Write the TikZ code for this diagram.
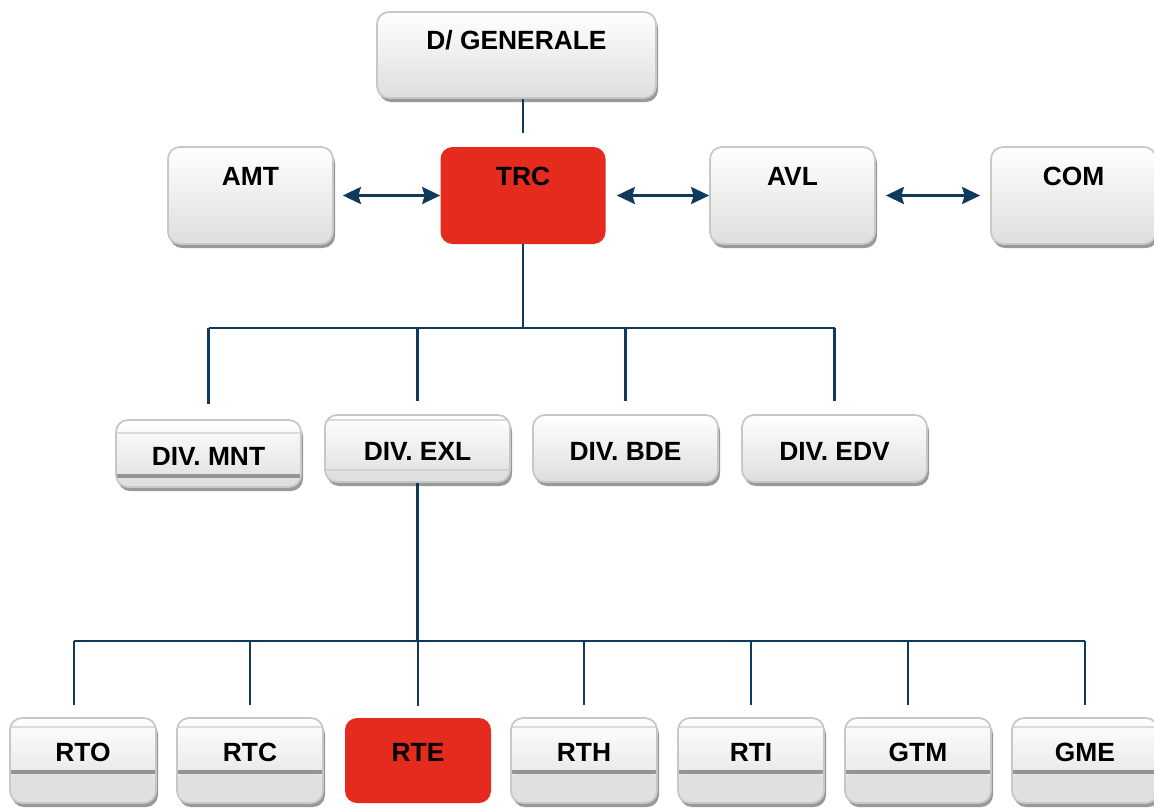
\documentclass[tikz,border=0pt]{standalone}
\usepackage{fontspec}
\setmainfont{Liberation Sans}
\usetikzlibrary{positioning,calc,shadows,arrows.meta}
\definecolor{trcred}{RGB}{229,42,30}
\definecolor{linkblue}{RGB}{15,58,92}
\tikzstyle{greybox}=[rectangle, rounded corners=2.4mm, draw=black!22, line width=1pt, top color=white, bottom color=black!13, drop shadow={shadow xshift=0.04cm, shadow yshift=-0.08cm, fill=black!40, opacity=1}, font=\fontsize{15}{17}\selectfont\bfseries, inner sep=2pt]
\tikzstyle{redbox}=[rectangle, rounded corners=2.4mm, fill=trcred, font=\fontsize{15}{17}\selectfont\bfseries, inner sep=2pt]
\tikzstyle{toplevel}=[minimum width=5.58cm, minimum height=1.72cm, text height=0.38cm, text depth=0.6cm]
\tikzstyle{unit}=[minimum width=3.3cm, minimum height=1.94cm, text height=0.38cm, text depth=0.78cm]
\tikzstyle{division}=[minimum width=3.7cm, minimum height=1.34cm, text height=0.6cm, text depth=0.12cm]
\tikzstyle{service}=[minimum width=2.92cm, minimum height=1.7cm, text height=0.38cm, text depth=0.34cm]
\tikzstyle{link}=[{Stealth[length=3.6mm,width=3.4mm,inset=0.5mm]}-{Stealth[length=3.6mm,width=3.4mm,inset=0.5mm]}, draw=linkblue, line width=1.6pt]
\tikzstyle{tree}=[draw=linkblue, line width=1.3pt]
\tikzset{band/.style 2 args={path picture={
  \fill [black!12] (path picture bounding box.south west) rectangle ([yshift=#2]path picture bounding box.south east);
  \draw [black!14, line width=1pt] ([yshift=-#1]path picture bounding box.north west) -- ([yshift=-#1]path picture bounding box.north east);
  \draw [black!42, line width=1.8pt] ([yshift=#2]path picture bounding box.south west) -- ([yshift=#2]path picture bounding box.south east);
}}}
\tikzset{lightband/.style 2 args={path picture={
  \fill [black!12] (path picture bounding box.south west) rectangle ([yshift=#2]path picture bounding box.south east);
  \draw [black!14, line width=1pt] ([yshift=-#1]path picture bounding box.north west) -- ([yshift=-#1]path picture bounding box.north east);
  \draw [black!18, line width=1pt] ([yshift=#2]path picture bounding box.south west) -- ([yshift=#2]path picture bounding box.south east);
}}}

\begin{document}
\begin{tikzpicture}[]
  \useasboundingbox (0,0) rectangle (23.08,-16.16);

  \node [greybox, toplevel] at (10.33, -1.10) (dg) {D/ GENERALE};

  \node [greybox, unit] at (5.01, -3.91) (amt) {AMT};
  \node [redbox, unit] at (10.46, -3.91) (trc) {TRC};
  \node [greybox, unit] at (15.85, -3.91) (avl) {AVL};
  \node [greybox, unit] at (21.47, -3.91) (com) {COM};

  \node [greybox, division, band={0.26cm}{0.22cm}] at (4.17, -9.07) (mnt) {DIV. MNT};
  \node [greybox, division, lightband={0.1cm}{0.24cm}] at (8.35, -8.97) (exl) {DIV. EXL};
  \node [greybox, division] at (12.51, -8.97) (bde) {DIV. BDE};
  \node [greybox, division] at (16.69, -8.97) (edv) {DIV. EDV};

  \node [greybox, service, band={0.18cm}{0.62cm}] at (1.66, -15.21) (rto) {RTO};
  \node [greybox, service, band={0.18cm}{0.62cm}] at (5.0, -15.21) (rtc) {RTC};
  \node [redbox, service] at (8.36, -15.21) (rte) {RTE};
  \node [greybox, service, band={0.18cm}{0.62cm}] at (11.68, -15.21) (rth) {RTH};
  \node [greybox, service, band={0.18cm}{0.62cm}] at (15.02, -15.21) (rti) {RTI};
  \node [greybox, service, band={0.18cm}{0.62cm}] at (18.36, -15.21) (gtm) {GTM};
  \node [greybox, service, band={0.18cm}{0.62cm}] at (21.7, -15.21) (gme) {GME};

  \draw [tree, shorten >=0.28cm] (dg.south -| trc) -- (trc.north);

  \draw [link, shorten <=0.18cm] (amt.east) -- (trc.west);
  \draw [link, shorten <=0.22cm] (trc.east) -- (avl.west);
  \draw [link, shorten <=0.2cm, shorten >=0.2cm] (avl.east) -- (com.west);

  \draw [tree] (trc.south) -- ++(0,-1.68) coordinate (bus1);
  \draw [tree] (bus1 -| mnt) -- (bus1 -| edv);
  \draw [tree, shorten >=0.3cm] (bus1 -| mnt) -- (mnt.north);
  \draw [tree, shorten >=0.26cm] (bus1 -| exl) -- (exl.north);
  \draw [tree, shorten >=0.26cm] (bus1 -| bde) -- (bde.north);
  \draw [tree, shorten >=0.26cm] (bus1 -| edv) -- (edv.north);

  \draw [tree] (exl.south) -- ++(0,-3.16) coordinate (bus2);
  \draw [tree] ([xshift=-0.18cm]rto.north |- bus2) -- (gme.north |- bus2);
  \draw [tree, shorten >=0.24cm] ([xshift=-0.18cm]rto.north |- bus2) -- ([xshift=-0.18cm]rto.north);
  \draw [tree, shorten >=0.24cm] (rtc.north |- bus2) -- (rtc.north);
  \draw [tree, shorten >=0.24cm] (rte.north |- bus2) -- (rte.north);
  \draw [tree, shorten >=0.24cm] (rth.north |- bus2) -- (rth.north);
  \draw [tree, shorten >=0.24cm] (rti.north |- bus2) -- (rti.north);
  \draw [tree, shorten >=0.24cm] ([xshift=-0.2cm]gtm.north |- bus2) -- ([xshift=-0.2cm]gtm.north);
  \draw [tree, shorten >=0.24cm] (gme.north |- bus2) -- (gme.north);
\end{tikzpicture}
\end{document}
